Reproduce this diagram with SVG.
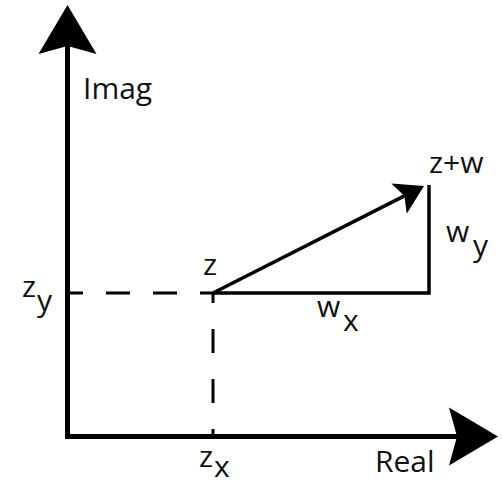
<svg xmlns="http://www.w3.org/2000/svg" width="502" height="486" viewBox="0 0 502 486">
<style>
  .axis{fill:none;stroke:#000;stroke-width:5}
  .dash{fill:none;stroke:#000;stroke-width:3}
  .line{fill:none;stroke:#000;stroke-width:3.5}
  text{font-family:"Open Sans","DejaVu Sans",sans-serif;font-size:30px;fill:#111}
</style>
<defs>
  <marker id="axisHead" markerUnits="userSpaceOnUse" markerWidth="52" markerHeight="62" refX="8" refY="30" orient="auto-start-reverse" viewBox="0 0 52 60">
    <path d="M0,1 L49,30 L0,59 L8,30 Z" fill="#000"/>
  </marker>
  <marker id="vecHead" markerUnits="userSpaceOnUse" markerWidth="30" markerHeight="36" refX="6" refY="17" orient="auto" viewBox="0 0 30 34">
    <path d="M0,0 L28,17 L0,34 L6,17 Z" fill="#000"/>
  </marker>
</defs>
<rect width="502" height="486" fill="#fff"/>
<g id="connectors">
  <path class="axis" d="M67.5,46 L67.5,436.5 L457,436.5" marker-start="url(#axisHead)" marker-end="url(#axisHead)"/>
  <path class="dash" d="M68,293 L213,293" stroke-dasharray="24 23" stroke-dashoffset="9"/>
  <path class="dash" d="M213,293 L213,437" stroke-dasharray="24 26" stroke-dashoffset="14"/>
  <path class="line" d="M213,293 L429,293 L429,185"/>
  <path class="line" d="M213,293 L404.4,195.9" marker-end="url(#vecHead)"/>
</g>
<g id="label-imag"><text x="83" y="99">Imag</text></g>
<g id="label-real"><text x="375" y="472">Real</text></g>
<g id="node-z"><text x="203" y="275">z</text></g>
<g id="node-zw"><text x="429" y="173">z+w</text></g>
<g id="label-wy"><text x="446" y="242">w</text><text x="473" y="256">y</text></g>
<g id="label-wx"><text x="317" y="317">w</text><text x="343" y="331">x</text></g>
<g id="label-zy"><text x="22" y="297">z</text><text x="37" y="311">y</text></g>
<g id="label-zx"><text x="199" y="467">z</text><text x="214" y="477">x</text></g>
</svg>
